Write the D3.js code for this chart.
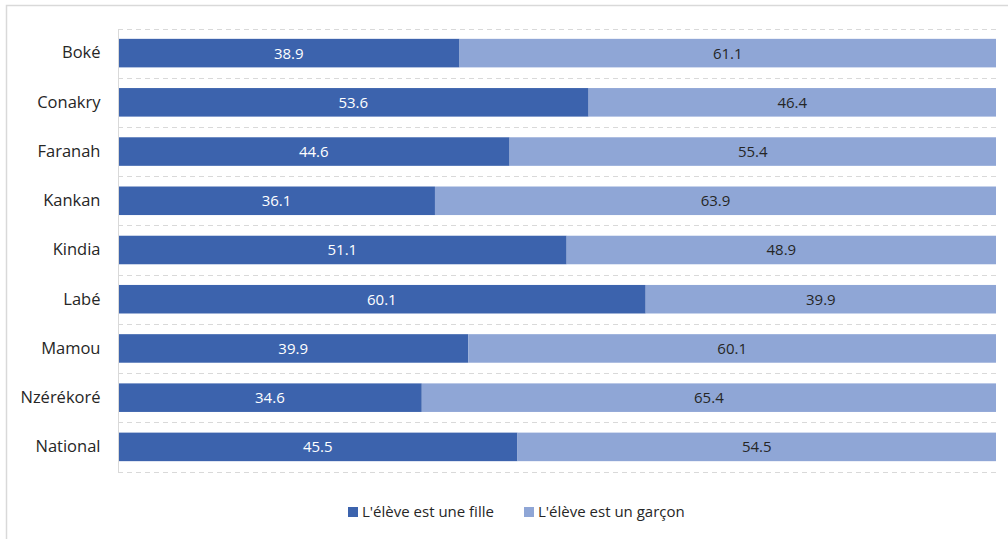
<!DOCTYPE html>
<html>
<head>
<meta charset="utf-8">
<script src="https://cdn.jsdelivr.net/npm/d3@7"></script>
<style>
  html, body { margin: 0; padding: 0; background: #fff; }
  svg { display: block; font-family: "Open Sans", "Noto Sans", sans-serif; }
</style>
</head>
<body>
<svg id="chart" width="1008" height="539"></svg>
<script>
// Share of pupils by sex, per region (percent)
const regions = ["Boké", "Conakry", "Faranah", "Kankan", "Kindia", "Labé", "Mamou", "Nzérékoré", "National"];
const girls = [38.9, 53.6, 44.6, 36.1, 51.1, 60.1, 39.9, 34.6, 45.5];
const boys  = [61.1, 46.4, 55.4, 63.9, 48.9, 39.9, 60.1, 65.4, 54.5];
const seriesNames = ["L'élève est une fille", "L'élève est un garçon"];
const seriesColors = ["#3c63ad", "#8fa6d6"];

const svg = d3.select("#chart");
const W = 1008, H = 539;

// outer frame (only top and left edges fall inside the view)
svg.append("rect")
  .attr("x", 6.5).attr("y", 5.5)
  .attr("width", W + 20).attr("height", H + 20)
  .attr("fill", "none").attr("stroke", "#d9d9d9").attr("stroke-width", 1.5);

const margin = { left: 118, right: 12, top: 28.5, bottom: 67.5 };
const x = d3.scaleLinear().domain([0, 100]).range([margin.left, W - margin.right]);
const y = d3.scaleBand().domain(regions)
  .range([margin.top, H - margin.bottom])
  .paddingInner(0.42).paddingOuter(0.21);

// dashed separators between categories
const gridY = d3.range(regions.length + 1).map(i => margin.top + i * (H - margin.bottom - margin.top) / regions.length);
svg.append("g").selectAll("line").data(gridY).join("line")
  .attr("x1", x(0)).attr("x2", x(100))
  .attr("y1", d => Math.round(d) + 0.5).attr("y2", d => Math.round(d) + 0.5)
  .attr("stroke", "#d9d9d9").attr("stroke-width", 1)
  .attr("stroke-dasharray", "5,4");

// stacked data
const rows = regions.map((r, i) => ({ region: r, girls: girls[i], boys: boys[i] }));
const stacked = d3.stack().keys(["girls", "boys"])(rows);

const layers = svg.append("g").selectAll("g").data(stacked).join("g")
  .attr("fill", (d, i) => seriesColors[i]);

layers.selectAll("rect").data(d => d).join("rect")
  .attr("x", d => x(d[0]))
  .attr("y", d => y(d.data.region))
  .attr("width", d => x(d[1]) - x(d[0]))
  .attr("height", y.bandwidth());

// value labels centred in each segment
layers.each(function (layer, li) {
  d3.select(this).selectAll("text").data(layer).join("text")
    .attr("x", d => (x(d[0]) + x(d[1])) / 2)
    .attr("y", d => y(d.data.region) + y.bandwidth() / 2)
    .attr("dy", "0.36em")
    .attr("text-anchor", "middle")
    .attr("font-size", 15)
    .attr("fill", li === 0 ? "#ffffff" : "#262626")
    .text(d => d3.format(".1f")(d[1] - d[0]));
});

// category axis
const yAxis = svg.append("g")
  .attr("transform", `translate(${x(0) + 0.5},0)`)
  .call(d3.axisLeft(y).tickSize(0).tickPadding(18));
yAxis.select(".domain")
  .attr("stroke", "#d9d9d9")
  .attr("d", `M0,${Math.round(gridY[0])}V${Math.round(gridY[gridY.length - 1]) + 1}`);
yAxis.selectAll("text")
  .attr("font-size", 16.5)
  .attr("font-family", "'Open Sans', 'Noto Sans', sans-serif")
  .attr("fill", "#262626");

// legend
const legend = svg.append("g").attr("transform", "translate(348,512)");
const legendX = [0, 176];
seriesNames.forEach((name, i) => {
  const g = legend.append("g").attr("transform", `translate(${legendX[i]},0)`);
  g.append("rect").attr("x", 0).attr("y", -5).attr("width", 10).attr("height", 10)
    .attr("fill", seriesColors[i]);
  g.append("text").attr("x", 14).attr("y", 0).attr("dy", "0.36em")
    .attr("font-size", 15).attr("fill", "#262626").text(name);
});
</script>
</body>
</html>
